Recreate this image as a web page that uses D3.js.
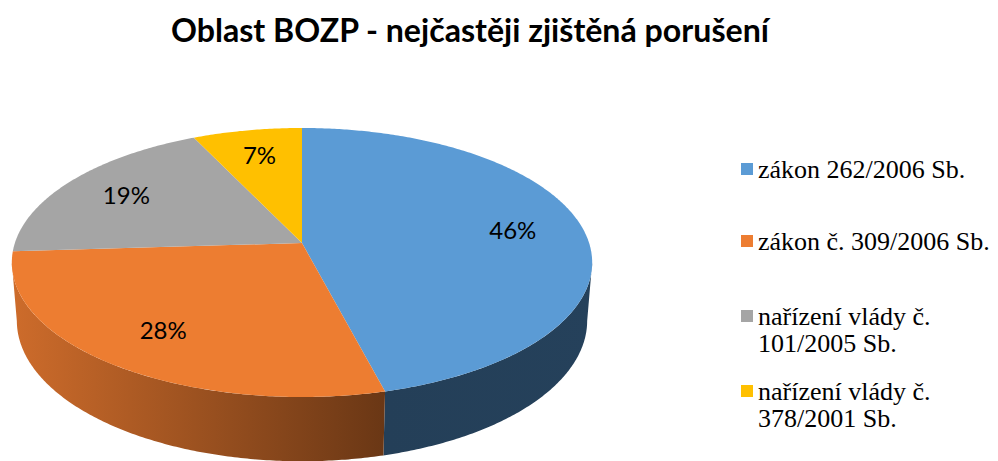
<!DOCTYPE html>
<html>
<head>
<meta charset="utf-8">
<script src="https://cdn.jsdelivr.net/npm/d3@7"></script>
<style>
  body { margin: 0; background: #fff; }
  svg { display: block; }
</style>
</head>
<body>
<div id="chart-area"></div>
<script>
// chart data
let categories = ["zákon 262/2006 Sb.", "zákon č. 309/2006 Sb.", "nařízení vlády č. 101/2005 Sb.", "nařízení vlády č. 378/2001 Sb."];
let legendLines = [["zákon 262/2006 Sb."], ["zákon č. 309/2006 Sb."], ["nařízení vlády č.", "101/2005 Sb."], ["nařízení vlády č.", "378/2001 Sb."]];
let values = [46, 28, 19, 7];
let colors = ["#5B9BD5", "#ED7D31", "#A5A5A5", "#FFC000"];
let titleText = "Oblast BOZP - nejčastěji zjištěná porušení";

let width = 998,
	height = 461;

let svg = d3.select("#chart-area").append("svg")
	.attr("width", width)
	.attr("height", height);

// simple perspective for the 3D pie
let cx = 302, cy = 243;
let tilt = 27.3 * Math.PI / 180;
let camDist = 6.13, focal = 1760, thick = 0.23;
let sT = Math.sin(tilt), cT = Math.cos(tilt);

function proj(r, a, yw) {
	let X = r * Math.sin(a), Z = r * Math.cos(a), Y = yw;
	let depth = camDist + Z * cT - Y * sT;
	let up = Y * cT + Z * sT;
	return [cx + focal * X / depth, cy - focal * up / depth];
}

function arcPts(a0, a1, yw) {
	let n = Math.max(2, Math.ceil(Math.abs(a1 - a0) / 0.01));
	return d3.range(n + 1).map(i => proj(1, a0 + (a1 - a0) * i / n, yw));
}

let pie = d3.pie().sort(null).value(d => d)(values);
let line = d3.line();

// angles where the side wall is visible
let edge = Math.acos(-cT / camDist);
let visA0 = edge, visA1 = 2 * Math.PI - edge;

let defs = svg.append("defs");
let gradOrange = defs.append("linearGradient")
	.attr("id", "side1")
	.attr("gradientUnits", "userSpaceOnUse")
	.attr("x1", 10).attr("x2", 385).attr("y1", 0).attr("y2", 0);
gradOrange.append("stop").attr("offset", "0%").attr("stop-color", "#CE6C2B");
gradOrange.append("stop").attr("offset", "100%").attr("stop-color", "#6A3715");

let gradBlue = defs.append("linearGradient")
	.attr("id", "side0")
	.attr("gradientUnits", "userSpaceOnUse")
	.attr("x1", 383).attr("x2", 600).attr("y1", 0).attr("y2", 0);
gradBlue.append("stop").attr("offset", "0%").attr("stop-color", "#243F58");
gradBlue.append("stop").attr("offset", "100%").attr("stop-color", "#25415B");

let sideFill = ["url(#side0)", "url(#side1)", "#636363", "#997300"];

// side walls
pie.forEach((p, i) => {
	let a0 = Math.max(p.startAngle, visA0), a1 = Math.min(p.endAngle, visA1);
	if (a1 <= a0) return;
	let pts = arcPts(a0, a1, 0).concat(arcPts(a1, a0, -thick));
	svg.append("path")
		.attr("d", line(pts) + "Z")
		.attr("fill", sideFill[i]);
});

// top faces
svg.selectAll("path.top")
	.data(pie)
	.enter()
	.append("path")
	.attr("class", "top")
	.attr("d", p => line([[cx, cy]].concat(arcPts(p.startAngle, p.endAngle, 0))) + "Z")
	.attr("fill", (p, i) => colors[i]);

// percentage labels
let total = d3.sum(values);
svg.selectAll("text.pct")
	.data(pie)
	.enter()
	.append("text")
	.attr("class", "pct")
	.attr("x", p => proj(0.75, (p.startAngle + p.endAngle) / 2, 0)[0])
	.attr("y", p => proj(0.75, (p.startAngle + p.endAngle) / 2, 0)[1])
	.attr("text-anchor", "middle")
	.attr("dy", "0.35em")
	.style("font-family", "Lato, 'Open Sans', sans-serif")
	.style("font-size", "24px")
	.attr("fill", "#000")
	.text(p => d3.format(".0%")(p.value / total));

// title
let title = svg.append("text")
	.attr("x", 470)
	.attr("y", 42)
	.attr("text-anchor", "middle")
	.style("font-family", "Lato, 'Open Sans', sans-serif")
	.style("font-weight", "bold")
	.style("font-size", "26px")
	.attr("fill", "#000")
	.text(titleText);
let tw = title.node().getComputedTextLength();
title.style("font-size", (26 * 598 / tw).toFixed(2) + "px");

// legend
let legendY = [178, 250, 325, 400];
let legend = svg.selectAll("g.legend")
	.data(categories)
	.enter()
	.append("g")
	.attr("class", "legend")
	.attr("transform", (d, i) => "translate(741," + legendY[i] + ")");

legend.append("rect")
	.attr("x", 0)
	.attr("y", -15)
	.attr("width", 12)
	.attr("height", 12)
	.attr("fill", (d, i) => colors[i]);

legend.append("text")
	.attr("x", 17)
	.attr("y", 0)
	.style("font-family", "'Liberation Serif', 'Times New Roman', serif")
	.style("font-size", "26px")
	.attr("fill", "#000")
	.selectAll("tspan")
	.data((d, i) => legendLines[i])
	.enter()
	.append("tspan")
	.attr("x", 17)
	.attr("dy", (d, j) => j === 0 ? 0 : 27)
	.text(d => d);
</script>
</body>
</html>
